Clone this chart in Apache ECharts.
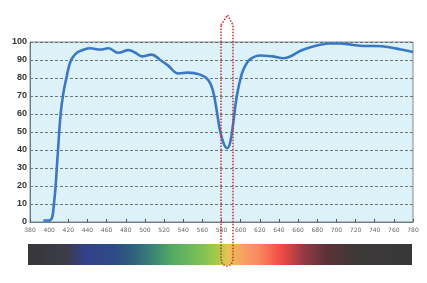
<!DOCTYPE html>
<html><head><meta charset="utf-8">
<script src="https://cdn.jsdelivr.net/npm/echarts@6/dist/echarts.min.js"></script>
<style>html,body{margin:0;padding:0;background:#fff}#c{width:427px;height:283px}</style>
</head><body><div id="c"></div>
<script>
const wavelengths = [394,401,405,409,412,415,418,421,424,429,435,443,453,462,472,483,490,497,507,516,524,535,545,557,566,571,575,578,582,586,589,592,596,601,605,610,620,633,645,652,662,672,683,693,704,716,728,738,748,758,766,780];
const transmittance = [0.8,1,10,38,60,72,80,87,91,94,95.5,96.5,95.8,96.5,94,95.5,94,92,93,90,87,82.5,83,82,79,73,62,52,44,41,44,54,70,82,87,90.5,92.5,92,91,92,95,97,98.5,99.2,99.2,98.5,97.8,97.8,97.6,96.8,96,94.5];
const xTicks = [380,400,420,440,460,480,500,520,540,560,580,600,620,640,660,680,700,720,740,760,780];
const yTicks = [0,10,20,30,40,50,60,70,80,90,100];

const chart = echarts.init(document.getElementById('c'), null, {renderer:'canvas'});
const L=30, T=42, R=413, B=222;
chart.setOption({
  animation:false,
  grid:{left:L, top:T, width:R-L, height:B-T, show:true, backgroundColor:'#dcf2f8', borderColor:'#7d8c92', borderWidth:1},
  xAxis:{type:'value', min:xTicks[0], max:xTicks[xTicks.length-1], interval:20,
    axisLine:{show:true, lineStyle:{color:'#6b7a80'}},
    axisTick:{show:true, inside:true, length:3, lineStyle:{color:'#556'}},
    splitLine:{show:false},
    axisLabel:{fontSize:6, color:'#666', margin:5, fontFamily:'DejaVu Sans'}},
  yAxis:{type:'value', min:yTicks[0], max:yTicks[yTicks.length-1], interval:10,
    axisLine:{show:true, lineStyle:{color:'#6b7a80'}},
    axisTick:{show:false},
    splitLine:{show:true, lineStyle:{color:'#4f5a5e', type:[3,2], width:0.8}},
    axisLabel:{fontSize:9, color:'#333', margin:3, fontWeight:'bold', fontFamily:'Liberation Sans'}},
  series:[{type:'line', smooth:0.4, symbol:'none',
    data: wavelengths.map((w,i)=>[w,transmittance[i]]),
    lineStyle:{color:'#3b78c4', width:2.6}}],
  graphic:[
    {type:'rect', shape:{x:28,y:244,width:384,height:21}, z:1,
     style:{fill:{type:'linear',x:0,y:0,x2:1,y2:0,colorStops:[
      {offset:0,color:'#37373b'},{offset:0.1,color:'#3a3c48'},{offset:0.15,color:'#33418a'},
      {offset:0.22,color:'#2e4a86'},{offset:0.27,color:'#2f5e7e'},{offset:0.32,color:'#3a8078'},
      {offset:0.38,color:'#55ad62'},{offset:0.45,color:'#7ec055'},{offset:0.5,color:'#aecb45'},
      {offset:0.52,color:'#e6c552'},{offset:0.56,color:'#f8a062'},{offset:0.6,color:'#f88a62'},
      {offset:0.66,color:'#f04a44'},{offset:0.72,color:'#923844'},{offset:0.78,color:'#593236'},
      {offset:0.86,color:'#3c3838'},{offset:1,color:'#383838'}]}}},
    {type:'polygon', z:10,
     shape:{points:[[221,25],[227.5,15],[233,25],[233,259],[232.5,262],[231,264.5],[229,265.7],[227,266],[225,265.7],[223,264.5],[221.5,262],[221,259]]},
     style:{fill:null, stroke:'#c83a3a', lineWidth:1.6, lineDash:[1.5,1.5]}}
  ]
});
</script></body></html>
